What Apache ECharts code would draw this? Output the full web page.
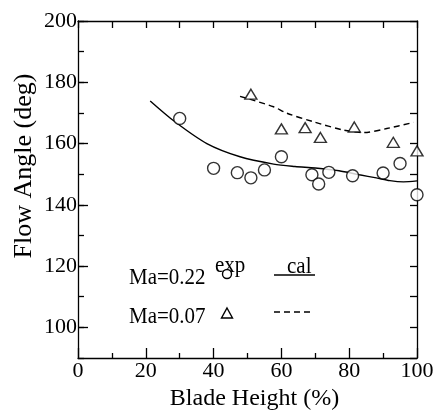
<!DOCTYPE html>
<html>
<head>
<meta charset="utf-8">
<script src="https://cdn.jsdelivr.net/npm/echarts@6/dist/echarts.min.js"></script>
<style>
  html, body { margin: 0; padding: 0; background: #fff; }
  #chart { width: 436px; height: 412px; }
</style>
</head>
<body>
<div id="chart"></div>
<script>
// Measured flow angles (deg) against blade height (%)
const expHighX = [30, 40, 47, 51, 55, 60, 69, 71, 74, 81, 90, 95, 100];
const expHighY = [168.2, 151.9, 150.5, 148.8, 151.4, 155.7, 149.8, 146.8, 150.6, 149.5, 150.4, 153.5, 143.3];
const expLowX = [51, 60, 67, 71.5, 81.5, 93, 100];
const expLowY = [176.1, 164.8, 165.2, 162, 165.4, 160.4, 157.6];

// Calculated distributions
const calHighX = [21.3, 28.6, 38, 47.8, 57.7, 64, 70, 77, 83, 88, 92, 96, 100];
const calHighY = [173.9, 167.1, 160.0, 155.7, 153.3, 152.5, 152.0, 151.1, 149.8, 148.8, 147.9, 147.5, 147.8];
const calLowX = [47.8, 57.7, 61.6, 69.5, 78.3, 84.2, 91.1, 99];
const calLowY = [175.4, 172.0, 169.9, 167.1, 164.4, 163.6, 164.9, 166.9];

const yLabels = [100, 120, 140, 160, 180, 200];

const zip = (xs, ys) => xs.map((x, i) => [x, ys[i]]);

const FONT = '"Liberation Serif", "Times New Roman", serif';
const INK = '#000';

const chart = echarts.init(document.getElementById('chart'), null, { renderer: 'canvas' });

chart.setOption({
  animation: false,
  backgroundColor: '#fff',
  grid: { left: 78, right: 19, top: 21, bottom: 54, outerBoundsMode: 'none', containLabel: false },
  xAxis: [
    {
      type: 'value', position: 'bottom', min: 0, max: 100, interval: 20,
      name: 'Blade Height (%)', nameLocation: 'middle', nameGap: 29,
      nameTextStyle: { fontFamily: FONT, fontSize: 24, color: INK, padding: [0, 0, 0, 14] },
      axisLine: { show: true, onZero: false, lineStyle: { color: INK, width: 1.3 } },
      axisTick: { show: true, inside: true, length: 10, lineStyle: { color: INK, width: 1.3 } },
      minorTick: { show: true, splitNumber: 2, length: 5, lineStyle: { color: INK, width: 1.3 } },
      axisLabel: { fontFamily: FONT, fontSize: 22, color: INK, margin: 2 },
      splitLine: { show: false }
    },
    {
      type: 'value', position: 'top', min: 0, max: 100, interval: 10,
      axisLine: { show: true, onZero: false, lineStyle: { color: INK, width: 1.3 } },
      axisTick: { show: true, inside: true, length: 7, lineStyle: { color: INK, width: 1.3 } },
      axisLabel: { show: false },
      splitLine: { show: false }
    }
  ],
  yAxis: [
    {
      type: 'value', position: 'left', min: 90, max: 200, interval: 10,
      axisLine: { show: true, onZero: false, lineStyle: { color: INK, width: 1.3 } },
      axisTick: { show: true, inside: true, length: 6, lineStyle: { color: INK, width: 1.3 } },
      axisLabel: {
        fontFamily: FONT, fontSize: 22, color: INK, margin: 1,
        formatter: v => (yLabels.indexOf(v) >= 0 ? String(v) : '')
      },
      splitLine: { show: false }
    },
    {
      type: 'value', position: 'right', min: 90, max: 200, interval: 10,
      axisLine: { show: true, onZero: false, lineStyle: { color: INK, width: 1.3 } },
      axisTick: { show: true, inside: true, length: 7, lineStyle: { color: INK, width: 1.3 } },
      axisLabel: { show: false },
      splitLine: { show: false }
    },
    {
      // longer ticks at the labelled values
      type: 'value', position: 'left', min: 90, max: 200, interval: 10,
      axisLine: { show: false },
      axisTick: { show: true, inside: true, length: 10, customValues: yLabels, lineStyle: { color: INK, width: 1.3 } },
      axisLabel: { show: false },
      splitLine: { show: false }
    }
  ],
  series: [
    {
      name: 'cal Ma=0.22', type: 'line', smooth: 0.3, symbol: 'none',
      data: zip(calHighX, calHighY),
      lineStyle: { color: INK, width: 1.4 }
    },
    {
      name: 'cal Ma=0.07', type: 'line', smooth: 0.3, symbol: 'none',
      data: zip(calLowX, calLowY),
      lineStyle: { color: INK, width: 1.4, type: [6, 4] }
    },
    {
      name: 'exp Ma=0.22', type: 'scatter', symbol: 'circle', symbolSize: 12, clip: false,
      data: zip(expHighX, expHighY),
      itemStyle: { color: '#fff', borderColor: INK, borderWidth: 1.4 }, z: 3
    },
    {
      name: 'exp Ma=0.07', type: 'scatter', symbol: 'triangle', symbolSize: [12, 10], clip: false,
      data: zip(expLowX, expLowY),
      itemStyle: { color: '#fff', borderColor: INK, borderWidth: 1.4 }, z: 3
    }
  ],
  graphic: [
    {
      type: 'text', x: 24, y: 166, rotation: Math.PI / 2,
      style: { text: 'Flow Angle (deg)', font: '26px ' + FONT, fill: INK, align: 'center', verticalAlign: 'middle' }
    },
    { type: 'text', x: 215, y: 266, scaleY: 1.1, style: { text: 'exp', font: '21px ' + FONT, fill: INK, verticalAlign: 'middle' } },
    { type: 'text', x: 287, y: 267, scaleY: 1.1, style: { text: 'cal', font: '21px ' + FONT, fill: INK, verticalAlign: 'middle' } },
    { type: 'text', x: 129, y: 278, scaleY: 1.1, style: { text: 'Ma=0.22', font: '21px ' + FONT, fill: INK, verticalAlign: 'middle' } },
    { type: 'text', x: 129, y: 317, scaleY: 1.1, style: { text: 'Ma=0.07', font: '21px ' + FONT, fill: INK, verticalAlign: 'middle' } },
    { type: 'circle', shape: { cx: 227, cy: 274, r: 4.5 }, style: { fill: '#fff', stroke: INK, lineWidth: 1.4 } },
    { type: 'polygon', shape: { points: [[227, 308], [232.5, 318], [221.5, 318]] }, style: { fill: '#fff', stroke: INK, lineWidth: 1.4 } },
    { type: 'line', shape: { x1: 274, y1: 275, x2: 315, y2: 275 }, style: { stroke: INK, lineWidth: 1.4 } },
    { type: 'line', shape: { x1: 274, y1: 312, x2: 311, y2: 312 }, style: { stroke: INK, lineWidth: 1.4, lineDash: [6, 4] } }
  ]
});
</script>
</body>
</html>
